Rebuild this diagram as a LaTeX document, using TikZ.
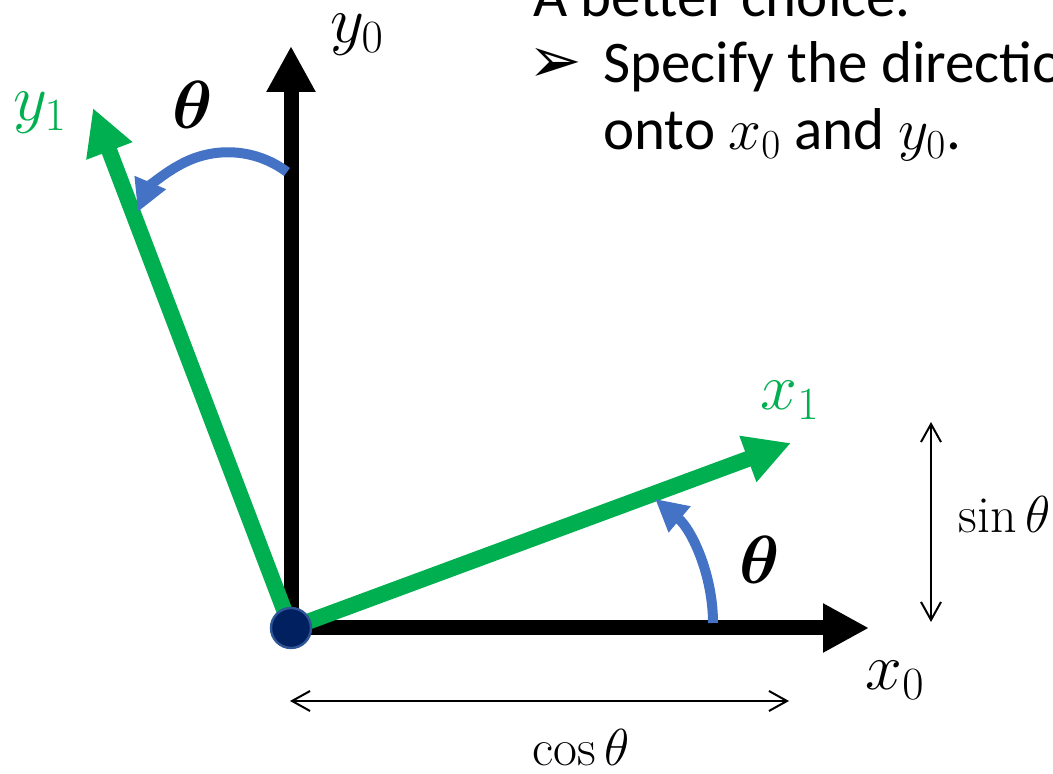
\RequirePackage{fix-cm}
\documentclass[tikz,border=0pt]{standalone}
\usepackage{bm}
\usepackage{fontspec}
\newfontfamily\slidefont{Carlito}
\newfontfamily\dingfont{DejaVu Sans}
\usepackage{xcolor}
\definecolor{AxisGreen}{HTML}{00B050}
\definecolor{ArcBlue}{HTML}{4472C4}
\definecolor{DotNavy}{HTML}{002060}
\definecolor{DotRim}{HTML}{2F5597}
\usetikzlibrary{arrows.meta}

\begin{document}
\begin{tikzpicture}[x=0.5pt, y=0.5pt,
  axisarrow/.style={line width=7.5pt, -{Triangle[length=23pt,width=23pt]}},
  anglearc/.style={ArcBlue, line width=5pt, -{Triangle[length=16pt,width=16pt]}},
  measure/.style={line width=1pt, {Straight Barb[length=9pt,width=10pt]}-{Straight Barb[length=9pt,width=10pt]}},
  lbl/.style={inner sep=0pt, font=\fontsize{33}{39}\selectfont},
  thlbl/.style={inner sep=0pt, font=\fontsize{34}{40}\selectfont},
  trig/.style={inner sep=0pt, font=\fontsize{26}{31}\selectfont},
  slide/.style={inner sep=0pt, anchor=base west, font=\slidefont\fontsize{29.5}{35}\selectfont}]
  \fill[white] (0,0) rectangle (1053,774);
  \useasboundingbox (0,0) rectangle (1053,774);
  \clip (0,0) rectangle (1053,774);

  % frames
  \coordinate (O) at (291,146);
  \coordinate (x0tip) at (869,146);
  \coordinate (y0tip) at (291,728);
  \coordinate (x1tip) at (791,331);
  \coordinate (y1tip) at (93,666);
  \draw[axisarrow] (O) -- (x0tip);
  \draw[axisarrow] (O) -- (y0tip);
  \draw[axisarrow, AxisGreen, line width=8pt] (O) -- (x1tip);
  \draw[axisarrow, AxisGreen, line width=8pt] (O) -- (y1tip);
  \node[circle, fill=DotNavy, draw=DotRim, line width=1.2pt, minimum size=20pt, inner sep=0pt] (orig) at (O) {};

  % rotation angles
  \coordinate (a0) at (713,151);
  \coordinate (a1) at (287,602);
  \draw[anglearc] (a0) arc[start angle=0, end angle=50, radius=162];
  \draw[anglearc] (a1) arc[start angle=53, end angle=157, radius=98];

  \node[lbl] (y0lab) at (357,739) {$y_0$};
  \node[lbl, AxisGreen] (y1lab) at (40,661) {$y_1$};
  \node[lbl, AxisGreen] (x1lab) at (790,374) {$x_1$};
  \node[lbl] (x0lab) at (895,94) {$x_0$};
  \node[thlbl] (thup) at (193,669) {$\bm{\theta}$};
  \node[thlbl] (thlow) at (760,214) {$\bm{\theta}$};

  % projections
  \coordinate (cosL) at (290,73);
  \coordinate (cosR) at (789,73);
  \draw[measure] (cosL) -- (cosR);
  \node[trig, anchor=base] (coslab) at (581,8) {$\cos\theta$};
  \coordinate (sinB) at (931,152);
  \coordinate (sinT) at (931,352);
  \draw[measure] (sinB) -- (sinT);
  \node[trig, anchor=base west] (sinlab) at (958,241) {$\sin\theta$};

  % slide text
  \node[slide] (head) at (533,757) {A better choice.};
  \node[inner sep=0pt, font=\dingfont\fontsize{32}{38}\selectfont] (bullet) at (555,709) {➢};
  \node[slide] (line2) at (603,691) {Specify the directio};
  \node[slide] (line3) at (603,624) {onto $x_0$ and $y_0$.};
\end{tikzpicture}
\end{document}
